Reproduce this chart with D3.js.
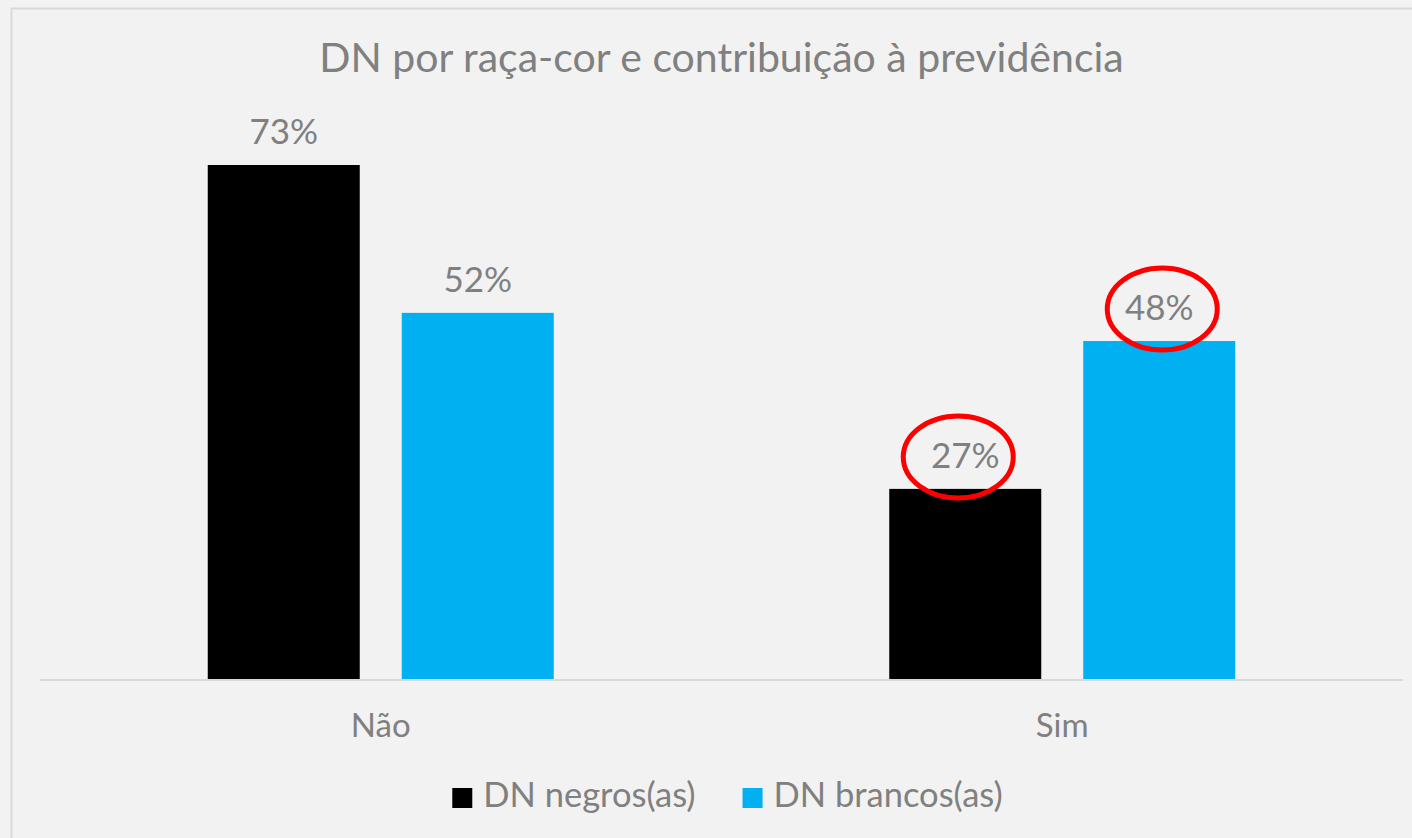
<!DOCTYPE html>
<html>
<head>
<meta charset="utf-8">
<script src="https://cdn.jsdelivr.net/npm/d3@7"></script>
<style>
  html, body { margin: 0; padding: 0; background: #f2f2f2; }
  svg { display: block; }
  text { font-family: Lato, "Open Sans", sans-serif; fill: #808080; }
</style>
</head>
<body>
<svg id="chart" width="1412" height="838"></svg>
<script>
// Chart data
const categories = ["Não", "Sim"];
const seriesNames = ["DN negros(as)", "DN brancos(as)"];
const negros = [0.73, 0.27];
const brancos = [0.52, 0.48];
const highlighted = [["Sim", "DN negros(as)"], ["Sim", "DN brancos(as)"]];

const colors = ["#000000", "#00b0f0"];
const W = 1412, H = 838;
const svg = d3.select("#chart");

// chart area background and frame
svg.append("rect").attr("x", 0).attr("y", 0).attr("width", W).attr("height", H).attr("fill", "#f2f2f2");
svg.append("rect").attr("x", 11.5).attr("y", 8.5).attr("width", W + 20).attr("height", H + 20)
  .attr("fill", "#f2f2f2").attr("stroke", "#d9d9d9").attr("stroke-width", 2);

const plot = { left: 40, right: 1403, top: 165, bottom: 679 };

const rows = categories.map((c, i) => ({ category: c, values: [negros[i], brancos[i]] }));

const x0 = d3.scaleBand().domain(categories).range([plot.left, plot.right]).padding(0);
const groupInner = 346;
const x1 = d3.scaleBand().domain(seriesNames)
  .range([(x0.bandwidth() - groupInner) / 2, (x0.bandwidth() + groupInner) / 2])
  .paddingInner(0.2165).paddingOuter(0);
const y = d3.scaleLinear().domain([0, d3.max([...negros, ...brancos])]).range([plot.bottom, plot.top]);

// title
svg.append("text").attr("x", (plot.left + plot.right) / 2).attr("y", 72)
  .attr("text-anchor", "middle").style("font-size", "41px")
  .text("DN por raça-cor e contribuição à previdência");

// bars
const groups = svg.append("g").selectAll("g").data(rows).join("g")
  .attr("transform", d => `translate(${x0(d.category)},0)`);

const cells = groups.selectAll("g.cell")
  .data(d => d.values.map((v, j) => ({ category: d.category, series: seriesNames[j], value: v, j })))
  .join("g").attr("class", "cell");

cells.append("rect")
  .attr("x", d => x1(d.series))
  .attr("width", x1.bandwidth())
  .attr("y", d => y(d.value))
  .attr("height", d => y(0) - y(d.value))
  .attr("fill", d => colors[d.j]);

cells.append("text")
  .attr("x", d => x1(d.series) + x1.bandwidth() / 2)
  .attr("y", d => y(d.value) - 21)
  .attr("text-anchor", "middle").style("font-size", "35px")
  .text(d => d3.format(".0%")(d.value));

// red circles drawn around the highlighted labels
cells.filter(d => highlighted.some(h => h[0] === d.category && h[1] === d.series))
  .append("ellipse")
  .attr("cx", d => x1(d.series) + x1.bandwidth() / 2 + (d.j === 0 ? -7 : 3))
  .attr("cy", d => y(d.value) - 32)
  .attr("rx", 55).attr("ry", 41)
  .attr("fill", "none").attr("stroke", "#ff0000").attr("stroke-width", 5);

// category axis
const xAxis = svg.append("g").attr("transform", `translate(0,${plot.bottom})`)
  .call(d3.axisBottom(x0).tickSize(0).tickPadding(35));
xAxis.select(".domain").attr("stroke", "#d9d9d9").attr("stroke-width", 2).attr("d", `M${plot.left},1H${plot.right}`);
xAxis.selectAll("text").style("font-size", "33px").style("font-family", "Lato, 'Open Sans', sans-serif").attr("fill", "#808080");

// legend
const legend = svg.append("g");
const items = legend.selectAll("g").data(seriesNames).join("g");
items.append("rect").attr("width", 20).attr("height", 20).attr("y", -19).attr("fill", (d, i) => colors[i]);
items.append("text").attr("x", 31).attr("y", 0).style("font-size", "34.5px").text(d => d);
const itemGap = 47;
let cursor = 0;
items.each(function () {
  const w = this.getBBox().width;
  d3.select(this).attr("transform", `translate(${cursor},0)`);
  cursor += w + itemGap;
});
const legendWidth = cursor - itemGap;
legend.attr("transform", `translate(${(plot.left + plot.right) / 2 - legendWidth / 2 + 6},807)`);
</script>
</body>
</html>
